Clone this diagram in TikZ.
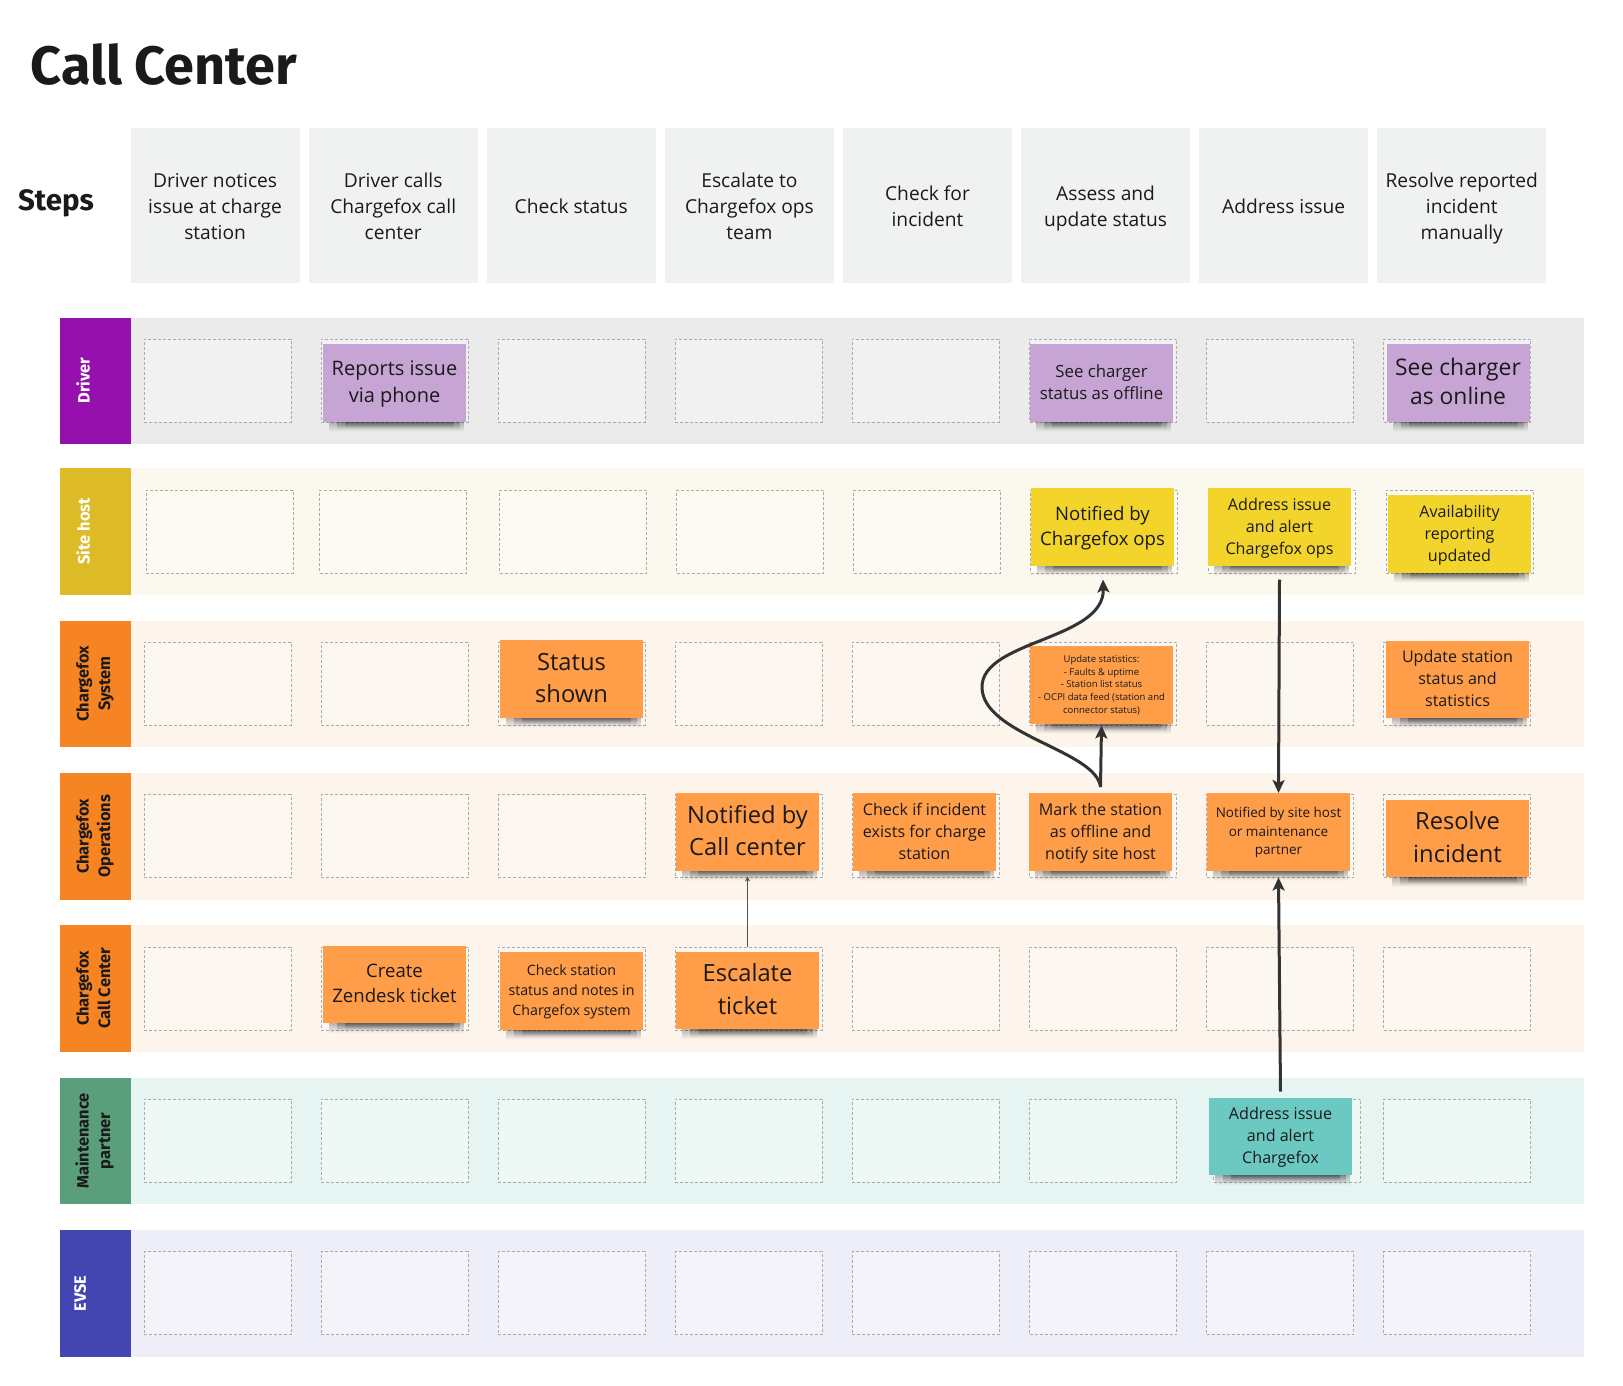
\documentclass[tikz,border=0pt]{standalone}
\usepackage{fontspec}
\setmainfont{Open Sans}
\newfontfamily\headfont{Fira Sans}
\usepackage{tikz}
\usetikzlibrary{positioning,arrows.meta,fadings}

\definecolor{stepgray}{HTML}{F0F2F2}
\definecolor{inkdark}{HTML}{1A1A1A}
\definecolor{slotgray}{HTML}{ABABAB}
\definecolor{flowgray}{HTML}{333333}
\definecolor{purpletag}{HTML}{9510AC}
\definecolor{purplelane}{HTML}{EBEBEB}
\definecolor{purplenote}{HTML}{C6A4D3}
\definecolor{yellowtag}{HTML}{DDBB26}
\definecolor{yellowlane}{HTML}{FBF9EE}
\definecolor{yellownote}{HTML}{F3D42B}
\definecolor{orangetag}{HTML}{F68423}
\definecolor{orangelane}{HTML}{FDF4EC}
\definecolor{orangenote}{HTML}{FF9D48}
\definecolor{greentag}{HTML}{5A9E7C}
\definecolor{greenlane}{HTML}{E6F5F1}
\definecolor{tealnote}{HTML}{6CC9C1}
\definecolor{bluetag}{HTML}{4346B0}
\definecolor{bluelane}{HTML}{EDEEF7}

\newcommand{\linestrut}[3]{\rule[\dimexpr#1\dimexpr#2pt\relax-.5\dimexpr#3pt\relax\relax]{0pt}{#3pt}}

\begin{document}
\begin{tikzpicture}[x=1pt, y=-1pt, inner sep=0pt, outer sep=0pt, text=inkdark,
    note size/.style 2 args={font=\fontsize{#1}{#2}\selectfont,
                    execute at begin node={\linestrut{.33}{#1}{#2}}, execute at end node={\linestrut{.33}{#1}{#2}}},
    stepbox/.style={rectangle, fill=stepgray, minimum width=168.8pt, minimum height=155pt,
                    text width=168.8pt, align=flush center, font=\fontsize{19.2}{26}\selectfont,
                    execute at begin node={\linestrut{.43}{19.2}{26}}, execute at end node={\linestrut{.43}{19.2}{26}}},
    lane/.style={rectangle, anchor=north west, minimum width=1453.5pt, minimum height=126.5pt},
    tag/.style={rectangle, anchor=north east, minimum width=70.7pt, minimum height=126.5pt, align=center,
                font=\headfont\bfseries\fontsize{16.4}{21.5}\selectfont},
    slot/.style={rectangle, draw=slotgray, line width=.8pt, dash pattern=on 3pt off 2pt,
                 fill=white, fill opacity=.35, minimum width=147pt, minimum height=83pt},
    sticky/.style={rectangle, anchor=north west, minimum width=143pt, minimum height=77.5pt,
                   text width=143pt, align=flush center},
    huge note/.style={note size={23.7}{32.5}},
    big note/.style={note size={20}{27}},
    mid note/.style={note size={18.6}{25}},
    std note/.style={note size={16.1}{22}},
    small note/.style={note size={14.2}{20}},
    tiny note/.style={note size={9.5}{12.8}},
    flow/.style={draw=flowgray, line width=3pt, -{Stealth[length=13pt,width=12pt,inset=3pt]}},
    thin flow/.style={draw=flowgray!85, line width=.9pt, -{Stealth[length=5pt,width=5pt]}},
    note shadow/.style={fill=black, opacity=.27, path fading=south}]

  \useasboundingbox (0,0) rectangle (1623,1386);

  \node[anchor=base west, font=\headfont\bfseries\fontsize{54}{54}\selectfont] (title) at (30.5,85) {Call Center};
  \node[anchor=base west, font=\headfont\bfseries\fontsize{29.5}{29.5}\selectfont] (stepshead) at (18,211) {Steps};

  % top row
  \node[stepbox] (step1) at (215.1,205.5) {Driver notices\\issue at charge\\station};
  \node[stepbox] (step2) [right=9.3pt of step1] {Driver calls\\Chargefox call\\center};
  \node[stepbox] (step3) [right=9.3pt of step2] {Check status};
  \node[stepbox] (step4) [right=9.3pt of step3] {Escalate to\\Chargefox ops\\team};
  \node[stepbox] (step5) [right=9.3pt of step4] {Check for\\incident};
  \node[stepbox] (step6) [right=9.3pt of step5] {Assess and\\update status};
  \node[stepbox] (step7) [right=9.3pt of step6] {Address issue};
  \node[stepbox] (step8) [right=9.3pt of step7] {Resolve reported\\incident\\manually};

  % swimlanes
  \node[lane, fill=purplelane] (driverlane) at (130.5,317.5) {};
  \node[lane, fill=yellowlane] (hostlane) at (130.5,468) {};
  \node[lane, fill=orangelane] (systemlane) at (130.5,620.5) {};
  \node[lane, fill=orangelane] (opslane) at (130.5,773) {};
  \node[lane, fill=orangelane] (calllane) at (130.5,925) {};
  \node[lane, fill=greenlane] (partnerlane) at (130.5,1077.5) {};
  \node[lane, fill=bluelane] (evselane) at (130.5,1230) {};

  \node[tag, fill=purpletag, text=white] (driver) at (driverlane.north west) {\rotatebox{90}{Driver}\hspace{24pt}};
  \node[tag, fill=yellowtag, text=white] (host) at (hostlane.north west) {\rotatebox{90}{Site host}\hspace{24pt}};
  \node[tag, fill=orangetag] (system) at (systemlane.north west)
    {\rotatebox{90}{\begin{tabular}{@{}c@{}}Chargefox\\System\end{tabular}}};
  \node[tag, fill=orangetag] (ops) at (opslane.north west)
    {\rotatebox{90}{\begin{tabular}{@{}c@{}}Chargefox\\Operations\end{tabular}}};
  \node[tag, fill=orangetag] (call) at (calllane.north west)
    {\rotatebox{90}{\begin{tabular}{@{}c@{}}Chargefox\\Call Center\end{tabular}}};
  \node[tag, fill=greentag] (partner) at (partnerlane.north west)
    {\rotatebox{90}{\begin{tabular}{@{}c@{}}Maintenance\\partner\end{tabular}}};
  \node[tag, fill=bluetag, text=white] (evse) at (evselane.north west) {\rotatebox{90}{EVSE}\hspace{30pt}};

  % empty slots
  \foreach \rowname/\y in {driverslot/380.5, systemslot/683.5, opsslot/836, callslot/988.5, evseslot/1293}
    \foreach \c in {1,...,8}
      \node[slot] (\rowname\c) at ({217.5+177.1*(\c-1)},\y) {};
  \foreach \c/\x in {1/219.5, 2/393, 3/573, 4/750, 5/927, 6/1104, 7/1282, 8/1459.5}
    \node[slot] (hostslot\c) at (\x,531.5) {};
  \foreach \c/\x in {1/217.5, 2/394.6, 3/571.7, 4/748.8, 5/925.9, 6/1103, 7/1287, 8/1457.2}
    \node[slot] (partnerslot\c) at (\x,1140.5) {};

  % sticky notes
  \node[sticky, fill=purplenote, big note] (reports) at (323,344) {Reports issue\\via phone};
  \node[sticky, fill=purplenote, note size={16.8}{22.5}] (seeoffline) at (1030,344) {See charger\\status as offline};
  \node[sticky, fill=purplenote, note size={22.9}{29}] (seeonline) at (1386.5,344) {See charger\\as online};

  \node[sticky, fill=yellownote, mid note] (notifiedhost) at (1031,488) {Notified by\\Chargefox ops};
  \node[sticky, fill=yellownote, std note] (addresshost) at (1208,488) {Address issue\\and alert\\Chargefox ops};
  \node[sticky, fill=yellownote, std note] (availability) at (1388,495) {Availability\\reporting\\updated};

  \node[sticky, fill=orangenote, huge note] (shown) at (500,640) {Status\\shown};
  \node[sticky, fill=orangenote, tiny note] (statistics) at (1030,646)
    {Update statistics:\\- Faults \& uptime\\- Station list status\\- OCPI data feed (station and\\connector status)};
  \node[sticky, fill=orangenote, std note] (updatestation) at (1386,640.5) {Update station\\status and\\statistics};

  \node[sticky, fill=orangenote, huge note] (notifiedcall) at (676,793) {Notified by\\Call center};
  \node[sticky, fill=orangenote, std note] (checkincident) at (853,793) {Check if incident\\exists for charge\\station};
  \node[sticky, fill=orangenote, std note] (markoffline) at (1029,793) {Mark the station\\as offline and\\notify site host};
  \node[sticky, fill=orangenote, note size={13.5}{18.7}] (notifiedsite) at (1207,793) {Notified by site host\\or maintenance\\partner};
  \node[sticky, fill=orangenote, huge note] (resolve) at (1386,799.5) {Resolve\\incident};

  \node[sticky, fill=orangenote, mid note] (zendesk) at (323,945.5) {Create\\Zendesk ticket};
  \node[sticky, fill=orangenote, small note] (checkstation) at (500,952) {Check station\\status and notes in\\Chargefox system};
  \node[sticky, fill=orangenote, huge note] (escalate) at (676,951.5) {Escalate\\ticket};

  \node[sticky, fill=tealnote, std note] (addresspartner) at (1209,1097.5) {Address issue\\and alert\\Chargefox};

  \foreach \n in {reports,seeoffline,seeonline,notifiedhost,addresshost,availability,shown,statistics,
                  updatestation,notifiedcall,checkincident,markoffline,notifiedsite,resolve,zendesk,
                  checkstation,escalate,addresspartner}
    \foreach \a/\b/\h in {6/2/10, 14/6/8, 22/12/6}
      \fill[note shadow] ([xshift=\a pt]\n.south west) rectangle ([xshift=-\b pt,yshift=-\h pt]\n.south east);

  % connectors
  \coordinate (bulge) at (982,687);
  \draw[flow] ([yshift=6pt]markoffline.north) .. controls (1096,750) and (982,735) .. (bulge)
    .. controls (982,640) and (1105,640) .. ([xshift=0.5pt,yshift=-14pt]notifiedhost.south);
  \draw[flow] ([yshift=6pt]markoffline.north) -- ([yshift=-2pt]statistics.south);
  \draw[flow] ([yshift=-14pt]addresshost.south) -- (notifiedsite.north);
  \draw[flow] ([yshift=6pt]addresspartner.north) -- ([yshift=-7pt]notifiedsite.south);
  \draw[thin flow] ([yshift=5pt]escalate.north) -- ([yshift=-6pt]notifiedcall.south);
\end{tikzpicture}
\end{document}
